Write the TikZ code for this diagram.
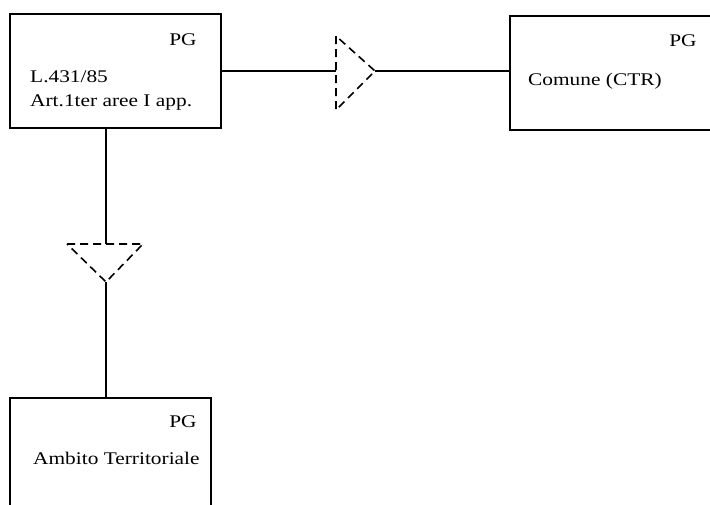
\documentclass[tikz,border=0pt]{standalone}
\usepackage{fontspec}
\setmainfont{Liberation Serif}
\newfontfamily\widefont[FakeStretch=1.2]{Liberation Serif}
\begin{document}
\begin{tikzpicture}[x=1pt,y=-1pt,
  box/.style={draw,line width=1.6pt,minimum width=#1,inner sep=0pt,rectangle},
  lbl/.style={anchor=base west,inner sep=0pt,font=\widefont\fontsize{17.8}{22}\selectfont},
  pg/.style={anchor=base,inner sep=0pt,font=\widefont\fontsize{17.8}{22}\selectfont},
  conn/.style={line width=1.6pt},
  tri/.style={line width=1.6pt,dash pattern=on 8pt off 5pt}]
\useasboundingbox (0,0) rectangle (710,504);
\clip (0,0) rectangle (710,504);
\node[box=211pt,minimum height=114pt] (b1) at (115.5,71) {};
\node[box=205pt,minimum height=114pt] (b2) at (612.5,73) {};
\node[box=201pt,minimum height=112pt] (b3) at (110.5,454) {};
% texts
\node[pg] (p1) at (183,45) {PG};
\node[lbl] (t1a) at (30,82) {L.431/85};
\node[lbl] (t1b) at (30,106) {Art.1ter aree I app.};
\node[pg] (p2) at (683,46) {PG};
\node[lbl] (t2) at (528,85) {Comune (CTR)};
\node[pg] (p3) at (183,427) {PG};
\node[lbl] (t3) at (33,464) {Ambito Territoriale};
% triangles
\coordinate (a1) at (336,36);
\coordinate (a2) at (336,110);
\coordinate (a3) at (375,71);
\coordinate (a4) at (336,71);
\coordinate (c1) at (67,244);
\coordinate (c2) at (143,244);
\coordinate (c3) at (106,282);
\coordinate (c4) at (106,244);
\draw[tri] (a1) -- (a2) -- (a3) -- cycle;
\draw[tri] (c1) -- (c2) -- (c3) -- cycle;
% connectors
\draw[conn] (b1.east |- a4) -- (a4);
\draw[conn] (a3) -- (b2.west |- a3);
\draw[conn] (b1.south -| c4) -- (c4);
\draw[conn] (c3) -- (b3.north -| c3);
\end{tikzpicture}
\end{document}
